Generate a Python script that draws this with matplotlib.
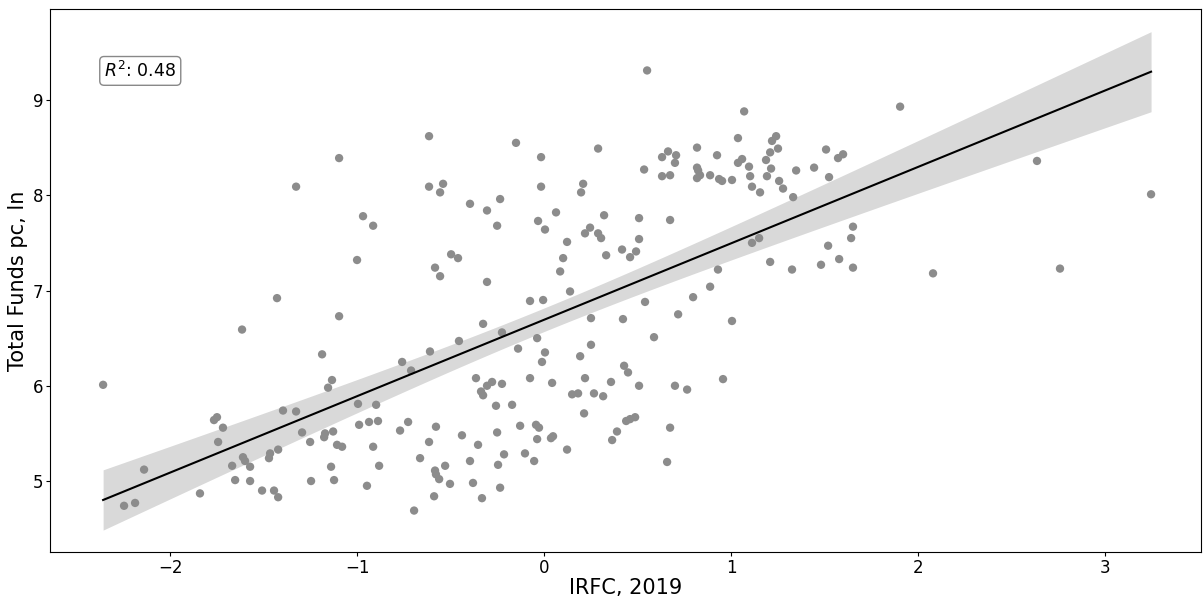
import numpy as np
import matplotlib
matplotlib.use("Agg")
import matplotlib.pyplot as plt

# IRFC index (2019) and log total funds per capita, one entry per unit
irfc = [
    -0.615, -1.096, -1.326, -0.615, -0.540, -0.556, -0.396, -0.305, -0.968, -0.914,
    -1.000, -0.497, -0.460, -0.583, -0.556, -0.305,
    0.551, -0.150, -0.016, 0.289, 0.631, 0.663, 0.706, 0.700, 0.631, 0.674,
    0.535, -0.016, 0.209, 0.198, -0.235, -0.251, 0.064, -0.032, 0.005, 0.321,
    0.508, 0.674, 0.123, 0.246, 0.219, 0.289, 0.305, 0.508, 0.102, 0.332,
    0.417, 0.460, 0.492, 0.086, 0.139,
    -0.075, -0.005, 0.540, 0.251, 0.422, 0.717, -0.225, -0.037, 0.588, -0.139,
    0.005, -0.011, 0.251, 0.193, 0.428, 0.449, -0.278, -0.225, -0.075, 0.043,
    0.219, 0.358, 0.508, 0.700, 0.765, 0.150, 0.182, 0.267, 0.316, -0.257,
    -0.171, 0.214, -0.128, -0.043, -0.027, 0.439, 0.460, 0.487, -0.251, -0.037,
    0.037, 0.048, 0.390, 0.364, 0.674, 0.123, -0.214, -0.102, -0.053, -0.246,
    0.658, -0.235,
    -1.096, -0.326, -1.187, -0.455, -0.610, -0.759, -0.711, -1.134, -1.155, -0.364,
    -0.305, -0.337, -0.326, -1.326, -0.995, -0.898, -0.989, -0.936, -0.888, -1.294,
    -1.176, -1.171, -1.128, -1.251, -1.107, -1.080, -0.914, -0.770, -0.727, -0.578,
    -0.439, -0.615, -0.353, -1.139, -0.882, -0.663, -0.529, -0.396, -0.583, -0.578,
    -0.561, -1.246, -1.123, -0.947, -0.503, -0.380, -0.588, -0.332, -0.695,
    -1.428, -1.615, -2.358, -1.396, -1.765, -1.749, -1.717, -1.743, -2.139, -1.610,
    -1.599, -1.668, -1.572, -1.465, -1.471, -1.422, -1.652, -1.572, -1.840, -1.508,
    -1.444, -1.422, -2.246, -2.187,
    1.070, 1.037, 1.241, 1.219, 0.818, 0.925, 1.209, 1.251, 1.508, 1.572,
    1.599, 1.059, 1.037, 1.187, 1.096, 1.214, 0.818, 0.824, 0.834, 0.818,
    0.888, 0.936, 0.952, 1.005, 1.102, 1.192, 1.257, 1.348, 1.444, 1.524,
    1.112, 1.155, 1.278, 1.332, 1.652, 1.642, 1.519, 1.112, 1.150, 1.578,
    1.209, 1.481, 1.652, 1.326, 0.930, 0.888, 0.797,
    1.005, 0.957,
    1.904, 2.636, 3.246, 2.080, 2.759,
]

funds_ln = [
    8.62, 8.39, 8.09, 8.09, 8.12, 8.03, 7.91, 7.84, 7.78, 7.68,
    7.32, 7.38, 7.34, 7.24, 7.15, 7.09,
    9.31, 8.55, 8.40, 8.49, 8.40, 8.46, 8.42, 8.34, 8.20, 8.21,
    8.27, 8.09, 8.12, 8.03, 7.96, 7.68, 7.82, 7.73, 7.64, 7.79,
    7.76, 7.74, 7.51, 7.66, 7.60, 7.60, 7.55, 7.54, 7.34, 7.37,
    7.43, 7.35, 7.41, 7.20, 6.99,
    6.89, 6.90, 6.88, 6.71, 6.70, 6.75, 6.56, 6.50, 6.51, 6.39,
    6.35, 6.25, 6.43, 6.31, 6.21, 6.14, 6.04, 6.02, 6.08, 6.03,
    6.08, 6.04, 6.00, 6.00, 5.96, 5.91, 5.92, 5.92, 5.89, 5.79,
    5.80, 5.71, 5.58, 5.59, 5.56, 5.63, 5.65, 5.67, 5.51, 5.44,
    5.45, 5.47, 5.52, 5.43, 5.56, 5.33, 5.28, 5.29, 5.21, 5.17,
    5.20, 4.93,
    6.73, 6.65, 6.33, 6.47, 6.36, 6.25, 6.16, 6.06, 5.98, 6.08,
    6.00, 5.94, 5.90, 5.73, 5.81, 5.80, 5.59, 5.62, 5.63, 5.51,
    5.46, 5.50, 5.52, 5.41, 5.38, 5.36, 5.36, 5.53, 5.62, 5.57,
    5.48, 5.41, 5.38, 5.15, 5.16, 5.24, 5.16, 5.21, 5.11, 5.07,
    5.02, 5.00, 5.01, 4.95, 4.97, 4.98, 4.84, 4.82, 4.69,
    6.92, 6.59, 6.01, 5.74, 5.64, 5.67, 5.56, 5.41, 5.12, 5.25,
    5.21, 5.16, 5.15, 5.29, 5.24, 5.33, 5.01, 5.00, 4.87, 4.90,
    4.90, 4.83, 4.74, 4.77,
    8.88, 8.60, 8.62, 8.57, 8.50, 8.42, 8.45, 8.49, 8.48, 8.39,
    8.43, 8.38, 8.34, 8.37, 8.30, 8.28, 8.29, 8.26, 8.21, 8.18,
    8.21, 8.17, 8.15, 8.16, 8.20, 8.20, 8.15, 8.26, 8.29, 8.19,
    8.09, 8.03, 8.07, 7.98, 7.67, 7.55, 7.47, 7.50, 7.55, 7.33,
    7.30, 7.27, 7.24, 7.22, 7.22, 7.04, 6.93,
    6.68, 6.07,
    8.93, 8.36, 8.01, 7.18, 7.23,
]

r2_label = "$R^2$: 0.48"
x_label = "IRFC, 2019"
y_label = "Total Funds pc, ln"
x_ticks = [-2, -1, 0, 1, 2, 3]
y_ticks = [5, 6, 7, 8, 9]

x = np.asarray(irfc)
y = np.asarray(funds_ln)

# Ordinary least squares fit with a 95% confidence band for the mean
n = len(x)
X = np.column_stack([np.ones(n), x])
beta, *_ = np.linalg.lstsq(X, y, rcond=None)
resid = y - X @ beta
s2 = resid @ resid / (n - 2)
cov = s2 * np.linalg.inv(X.T @ X)
grid = np.linspace(x.min(), x.max(), 200)
G = np.column_stack([np.ones_like(grid), grid])
fit = G @ beta
se = np.sqrt(np.einsum("ij,jk,ik->i", G, cov, G))
t_crit = 1.97
lo, hi = fit - t_crit * se, fit + t_crit * se

fig = plt.figure(figsize=(12.03, 5.98), dpi=100)
ax = fig.add_axes([50 / 1203, 1 - 552 / 598, 1151 / 1203, 543 / 598])

ax.scatter(x, y, s=36, color="#8c8c8c", edgecolors="none", zorder=2)
ax.fill_between(grid, lo, hi, color="black", alpha=0.15, linewidth=0, zorder=1)
ax.plot(grid, fit, color="black", linewidth=1.5, zorder=3)

ax.set_xlim(-2.642, 3.513)
ax.set_ylim(4.255, 9.955)
ax.set_xticks(x_ticks)
ax.set_yticks(y_ticks)
ax.tick_params(labelsize=12, length=3, pad=2)
ax.set_xlabel(x_label, fontsize=15, labelpad=1)
ax.set_ylabel(y_label, fontsize=15, labelpad=3)

ax.text(0.047, 0.886, r2_label, transform=ax.transAxes, fontsize=12.5,
        ha="left", va="center",
        bbox=dict(boxstyle="round,pad=0.25", facecolor="white", edgecolor="#888888"))

fig.savefig("out.png", dpi=100)
